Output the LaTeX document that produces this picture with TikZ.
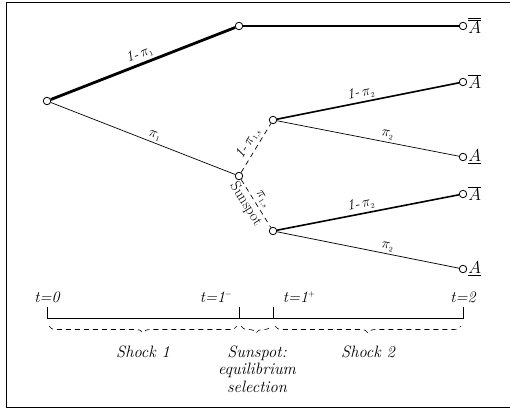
\documentclass[tikz,border=0pt]{standalone}
\usepackage{fontspec}
\usetikzlibrary{decorations.pathreplacing}
\begin{document}
\begin{tikzpicture}[x=1pt,y=-1pt,
  font=\fontsize{15}{17}\selectfont,
  dot/.style={circle,draw,fill=white,inner sep=0pt,minimum size=7.5pt,line width=0.8pt},
  thickedge/.style={line width=2.8pt},
  midedge/.style={line width=1.6pt},
  thinedge/.style={line width=0.7pt},
  dashedge/.style={line width=0.7pt,dashed,dash pattern=on 5pt off 4pt},
  lab/.style={inner sep=2.5pt,font=\fontsize{15}{17}\selectfont},
  endlab/.style={anchor=west,inner sep=1pt,font=\fontsize{16}{18}\selectfont},
  tlab/.style={font=\fontsize{16}{18}\selectfont\itshape},
  bracelab/.style={font=\fontsize{16.5}{17.5}\selectfont\itshape,align=center},
  dbrace/.style={decorate,decoration={brace,mirror,amplitude=7pt},dashed,dash pattern=on 5pt off 4pt,line width=0.6pt}]
\useasboundingbox (0,0) rectangle (510,411);
\draw[line width=1pt] (6,3) rectangle (515,407);
% nodes
\node[dot] (r) at (47,101) {};
\node[dot] (t) at (239,26) {};
\node[dot] (te) at (463,26) {};
\node[dot] (s) at (239,176) {};
\node[dot] (su) at (273,120) {};
\node[dot] (sl) at (273,231) {};
\node[dot] (e1) at (463,82) {};
\node[dot] (e2) at (463,157) {};
\node[dot] (e3) at (463,194) {};
\node[dot] (e4) at (463,269) {};
% edges
\draw[thickedge] (r) -- node[lab,sloped,above] {\textit{1-}\,$\pi_{\scriptscriptstyle 1}$} (t);
\draw[thickedge] (t) -- (te);
\draw[thinedge] (r) -- node[lab,sloped,above,pos=0.55] {$\pi_{\scriptscriptstyle 1}$} (s);
\draw[dashedge] (s) -- node[lab,sloped,above,inner sep=2pt] {\textit{1-}\,$\pi_{\scriptscriptstyle 1,s}$} (su);
\draw[dashedge] (s) -- node[lab,sloped,above,inner sep=2pt] {$\pi_{\scriptscriptstyle 1,s}$} node[lab,sloped,below,inner sep=2pt,pos=0.42] {Sunspot} (sl);
\draw[midedge] (su) -- node[lab,sloped,above,pos=0.47] {\textit{1-}\,$\pi_{\scriptscriptstyle 2}$} (e1);
\draw[thinedge] (su) -- node[lab,sloped,above,pos=0.6] {$\pi_{\scriptscriptstyle 2}$} (e2);
\draw[midedge] (sl) -- node[lab,sloped,above,pos=0.47] {\textit{1-}\,$\pi_{\scriptscriptstyle 2}$} (e3);
\draw[thinedge] (sl) -- node[lab,sloped,above,pos=0.6] {$\pi_{\scriptscriptstyle 2}$} (e4);
% end labels
\node[endlab] (l0) at (te.east) {$\overline{\overline{A}}$};
\node[endlab] (l1) at (e1.east) {$\overline{A}$};
\node[endlab] (l2) at (e2.east) {$\underline{A}$};
\node[endlab] (l3) at (e3.east) {$\overline{A}$};
\node[endlab] (l4) at (e4.east) {$\underline{A}$};
% timeline
\coordinate (a0) at (47,318);
\coordinate (a1) at (239,318);
\coordinate (a2) at (273,318);
\coordinate (a3) at (463,318);
\draw[line width=0.9pt] (47,307) -- (a0) -- (a3) -- (463,307);
\draw[line width=0.9pt] (a1) -- (239,307);
\draw[line width=0.9pt] (a2) -- (273,307);
\node[tlab] (T0) at (47,297) {t=0};
\node[tlab] (T1) at (216,297) {t=1$^{\scriptscriptstyle -}$};
\node[tlab] (T2) at (299,297) {t=1$^{\scriptscriptstyle +}$};
\node[tlab] (T3) at (463,297) {t=2};
\draw[dbrace] (49,326) -- (237,326);
\draw[dbrace] (241,326) -- (271,326);
\draw[dbrace] (275,326) -- (461,326);
\node[bracelab] (B1) at (143,352) {Shock 1};
\node[bracelab,anchor=north] (B2) at (257,342) {Sunspot:\\equilibrium\\selection};
\node[bracelab] (B3) at (368,352) {Shock 2};
\end{tikzpicture}
\end{document}
